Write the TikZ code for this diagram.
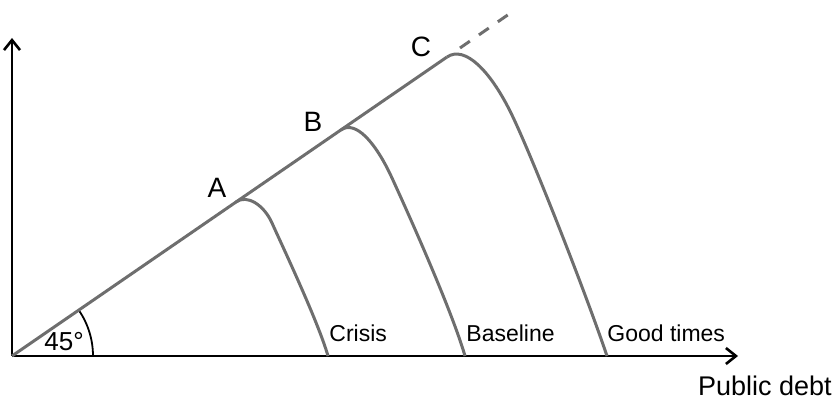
\documentclass[tikz,border=0pt]{standalone}
\usepackage{fontspec}
\setmainfont{Liberation Sans}
\usepackage{xcolor}
\usepackage{tikz}
\usetikzlibrary{positioning, arrows.meta}
\definecolor{debtgray}{HTML}{6E6E6E}
\tikzset{
  axis/.style={draw=black, line width=1.3pt, -{Straight Barb[length=5pt, width=8pt, line width=1.3pt]}},
  debtline/.style={draw=debtgray, line width=1.5pt},
  curvelabel/.style={font=\fontsize{11.5}{13}\selectfont, inner sep=0pt, anchor=west},
  pointlabel/.style={font=\fontsize{14}{16}\selectfont, inner sep=0pt}
}
\begin{document}
\begin{tikzpicture}[x=0.5pt, y=0.5pt]
  \useasboundingbox (0,0) rectangle (839,401);
  \coordinate (O) at (12,45);
  \coordinate (ytop) at (12,363);
  \coordinate (xend) at (738,45);
  \coordinate (A) at (236,199);
  \coordinate (B) at (341,271);
  \coordinate (C) at (447,344);
  \coordinate (dashstart) at (460,353);
  \coordinate (dashend) at (512,389);
  \coordinate (Abend) at (272,178);
  \coordinate (Bbend) at (392,223);
  \coordinate (Cbend) at (510,290);
  \coordinate (Aend) at (328,45);
  \coordinate (Bend) at (465,45);
  \coordinate (Cend) at (607,45);

  \draw[axis] (O) -- (ytop);
  \draw[axis] (O) -- (xend);
  \draw[black, line width=0.9pt] ([xshift=81*0.5pt]O) arc[start angle=0, end angle=34.5, radius=40.5pt];

  \draw[debtline] (O) -- (C);
  \draw[debtline, dash pattern=on 6pt off 5.5pt] (dashstart) -- (dashend);
  \draw[debtline] (A) .. controls (247,207) and (264,196) .. (Abend)
                      .. controls (280,160) and (318,80) .. (Aend);
  \draw[debtline] (B) .. controls (355,281) and (375,260) .. (Bbend)
                      .. controls (409,186) and (452,90) .. (Bend);
  \draw[debtline] (C) .. controls (465,356) and (490,330) .. (Cbend)
                      .. controls (530,250) and (585,110) .. (Cend);

  \node[pointlabel] (labA) at (217,213) {A};
  \node[pointlabel] (labB) at (313,279) {B};
  \node[pointlabel] (labC) at (421,354) {C};
  \node[font=\fontsize{13}{15}\selectfont, inner sep=0pt] (angle) at (64,59) {45°};

  \node[curvelabel] (crisis) at (329,68) {Crisis};
  \node[curvelabel] (baseline) at (466,68) {Baseline};
  \node[curvelabel] (good) at (607,68) {Good times};
  \node[font=\fontsize{13.5}{16}\selectfont, inner sep=0pt, anchor=east] (debt) at (832,15) {Public debt};
\end{tikzpicture}
\end{document}
